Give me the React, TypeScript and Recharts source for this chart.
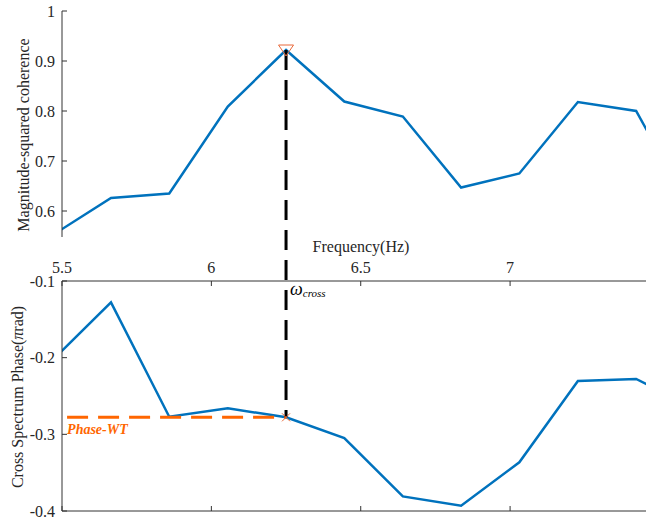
import React from 'react';
import { LineChart, Line, XAxis, YAxis, ReferenceLine, ReferenceDot } from 'recharts';

// frequency bins (Hz), coherence and cross spectrum phase (pi rad)
const freq = [5.469, 5.664, 5.859, 6.055, 6.25, 6.445, 6.641, 6.836, 7.031, 7.227, 7.422, 7.617];
const coherence = [0.552, 0.626, 0.635, 0.809, 0.922, 0.819, 0.789, 0.647, 0.675, 0.818, 0.8, 0.59];
const phase = [-0.203, -0.1278, -0.277, -0.266, -0.2778, -0.305, -0.381, -0.393, -0.3365, -0.2304, -0.2278, -0.265];

const freqTicks = [5.5, 6, 6.5, 7];
const cohTicks = [0.6, 0.7, 0.8, 0.9, 1];
const phaseTicks = [-0.4, -0.3, -0.2, -0.1];

const freqDomain = [5.5, 7.455];
const cohDomain = [0.548, 1];
const phaseDomain = [-0.4, -0.1];

// crossover frequency = coherence peak
const crossIdx = coherence.indexOf(Math.max(...coherence));
const crossFreq = freq[crossIdx];
const crossCoh = coherence[crossIdx];
const phaseWT = phase[crossIdx];
const phaseWTStart = 5.517;
const cohLineEnd = 0.46; // carries the dashed marker line down through the gap

const data = freq.map((f, i) => ({ f, coh: coherence[i], ph: phase[i] }));

const FONT = '"Liberation Serif", "Times New Roman", serif';
const AXIS = '#333333';
const TEXT = '#262626';
const BLUE = '#0072BD';
const ORANGE = '#FF6600';
const MARKER = '#E8693A';

const tickStyle = { fill: TEXT, fontSize: 16, fontFamily: FONT };

const Triangle = (p: any) => (
  <path
    d={`M${p.cx - 7.5},${p.cy - 5} L${p.cx + 7.5},${p.cy - 5} L${p.cx},${p.cy + 6} Z`}
    fill="none"
    stroke={MARKER}
    strokeWidth={1}
  />
);

const Cross = (p: any) => (
  <path
    d={`M${p.cx - 4},${p.cy - 4} L${p.cx + 4},${p.cy + 4} M${p.cx - 4},${p.cy + 4} L${p.cx + 4},${p.cy - 4}`}
    stroke={MARKER}
    strokeWidth={1}
  />
);

const cohLabel = ({ viewBox }: any) => {
  const x = 29;
  const y = viewBox.y + viewBox.height / 2 + 11;
  return (
    <text x={x} y={y} transform={`rotate(-90, ${x}, ${y})`} textAnchor="middle" fontFamily={FONT} fontSize={16} fill={TEXT}>
      Magnitude-squared coherence
    </text>
  );
};

const phaseLabel = ({ viewBox }: any) => {
  const x = 22.5;
  const y = viewBox.y + viewBox.height / 2 + 1;
  return (
    <text x={x} y={y} transform={`rotate(-90, ${x}, ${y})`} textAnchor="middle" fontFamily={FONT} fontSize={16} fill={TEXT}>
      Cross Spectrum Phase(<tspan fontStyle="italic">π</tspan>rad)
    </text>
  );
};

const freqLabel = ({ viewBox }: any) => (
  <text x={viewBox.x + viewBox.width / 2 + 7} y={viewBox.y + 1} textAnchor="middle" fontFamily={FONT} fontSize={16} fill={TEXT}>
    Frequency(Hz)
  </text>
);

const omegaLabel = ({ viewBox }: any) => (
  <text x={viewBox.x + 4} y={viewBox.y + 14} fontFamily={FONT} fontStyle="italic" fill="#000">
    <tspan fontSize={18}>ω</tspan>
    <tspan fontSize={11} dy={2}>cross</tspan>
  </text>
);

const phaseWTLabel = ({ viewBox }: any) => (
  <text x={viewBox.x} y={viewBox.y + 17} fontFamily={FONT} fontStyle="italic" fontWeight="bold" fontSize={14} fill={ORANGE}>
    Phase-WT
  </text>
);

export default function App() {
  return (
    <div style={{ position: 'fixed', left: 0, top: 0, width: 667, height: 519, background: '#fff', fontFamily: FONT }}>
      {/* coherence panel */}
      <div style={{ position: 'absolute', left: 0, top: 0 }}>
        <LineChart width={667} height={281} data={data} margin={{ top: 11, right: 21, bottom: 44, left: 0 }} style={{ fontFamily: FONT }}>
          <XAxis dataKey="f" type="number" domain={freqDomain} allowDataOverflow hide />
          <YAxis
            type="number"
            domain={cohDomain}
            allowDataOverflow
            ticks={cohTicks}
            interval={0}
            width={62}
            stroke={AXIS}
            tickSize={-5}
            tickMargin={12}
            tick={tickStyle}
            label={cohLabel}
          />
          <Line dataKey="coh" type="linear" stroke={BLUE} strokeWidth={2.5} dot={false} isAnimationActive={false} />
          <ReferenceDot x={crossFreq} y={crossCoh} shape={Triangle} ifOverflow="visible" />
          <ReferenceLine
            segment={[{ x: crossFreq, y: crossCoh }, { x: crossFreq, y: cohLineEnd }]}
            ifOverflow="visible"
            stroke="#000"
            strokeWidth={3}
            strokeDasharray="20 10"
          />
        </LineChart>
      </div>

      {/* phase panel */}
      <div style={{ position: 'absolute', left: 0, top: 226 }}>
        <LineChart width={667} height={293} data={data} margin={{ top: 25, right: 21, bottom: 0, left: 0 }} style={{ fontFamily: FONT }}>
          <XAxis
            xAxisId="t"
            dataKey="f"
            type="number"
            orientation="top"
            domain={freqDomain}
            allowDataOverflow
            ticks={freqTicks}
            interval={0}
            height={30}
            stroke={AXIS}
            tickSize={-5}
            tickMargin={13}
            tick={tickStyle}
            label={freqLabel}
          />
          <XAxis
            xAxisId="b"
            dataKey="f"
            type="number"
            orientation="bottom"
            domain={freqDomain}
            allowDataOverflow
            ticks={freqTicks}
            interval={0}
            height={8}
            stroke={AXIS}
            tickSize={-5}
            tickFormatter={() => ''}
          />
          <YAxis
            type="number"
            domain={phaseDomain}
            allowDataOverflow
            ticks={phaseTicks}
            interval={0}
            width={62}
            stroke={AXIS}
            tickSize={-5}
            tickMargin={12}
            tick={tickStyle}
            label={phaseLabel}
          />
          <Line xAxisId="t" dataKey="ph" type="linear" stroke={BLUE} strokeWidth={2.5} dot={false} isAnimationActive={false} />
          <ReferenceLine
            xAxisId="t"
            segment={[{ x: phaseWTStart, y: phaseWT }, { x: crossFreq, y: phaseWT }]}
            stroke={ORANGE}
            strokeWidth={3}
            strokeDasharray="21 10"
            label={phaseWTLabel}
          />
          <ReferenceLine
            xAxisId="t"
            segment={[{ x: crossFreq, y: phaseDomain[1] }, { x: crossFreq, y: phaseWT }]}
            stroke="#000"
            strokeWidth={3}
            strokeDasharray="20 10"
            strokeDashoffset={21}
            label={omegaLabel}
          />
          <ReferenceDot xAxisId="t" x={crossFreq} y={phaseWT} shape={Cross} />
        </LineChart>
      </div>
    </div>
  );
}
